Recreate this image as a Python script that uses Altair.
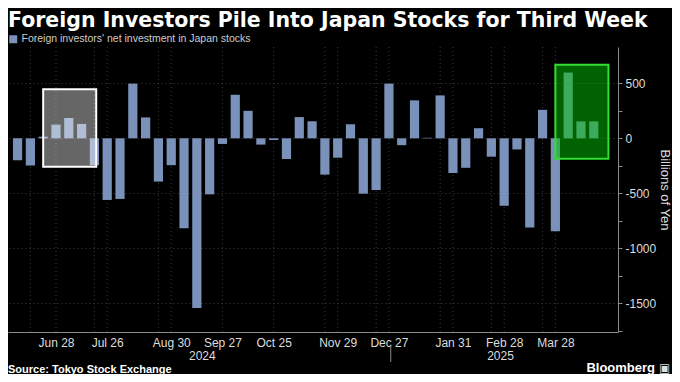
import altair as alt
import pandas as pd

# ---------------- data ----------------
weeks = [
    "2024-06-07", "2024-06-14", "2024-06-21", "2024-06-28",
    "2024-07-05", "2024-07-12", "2024-07-19", "2024-07-26",
    "2024-08-02", "2024-08-09", "2024-08-16", "2024-08-23", "2024-08-30",
    "2024-09-06", "2024-09-13", "2024-09-20", "2024-09-27",
    "2024-10-04", "2024-10-11", "2024-10-18", "2024-10-25",
    "2024-11-01", "2024-11-08", "2024-11-15", "2024-11-22", "2024-11-29",
    "2024-12-06", "2024-12-13", "2024-12-20", "2024-12-27",
    "2025-01-03", "2025-01-10", "2025-01-17", "2025-01-24", "2025-01-31",
    "2025-02-07", "2025-02-14", "2025-02-21", "2025-02-28",
    "2025-03-07", "2025-03-14", "2025-03-21", "2025-03-28",
    "2025-04-04", "2025-04-11", "2025-04-18",
]
net_investment = [
    -200, -247, 15, 125,
    185, 131, -244, -560,
    -551, 497, 190, -393, -244,
    -818, -1542, -509, -51,
    396, 250, -57, -15,
    -188, 193, 155, -330, -176,
    128, -503, -470, 497,
    -62, 345, 5, 390, -315,
    -268, 92, -167, -613,
    -101, -810, 259, -845,
    598, 154, 154,
]
series_name = "Foreign investors' net investment in Japan stocks"

label_dates = ["2024-06-28", "2024-07-26", "2024-08-30", "2024-09-27", "2024-10-25",
               "2024-11-29", "2024-12-27", "2025-01-31", "2025-02-28", "2025-03-28"]
extra_grid_dates = ["2024-06-14", "2024-07-19", "2024-08-23", "2024-11-22",
                    "2024-12-20", "2025-01-24", "2025-02-21", "2025-03-21"]
year_labels = ["2024", "2025"]
year_label_dates = ["2024-09-16", "2025-02-26"]
year_break_dates = ["2024-12-28"]

box_kind = ["earlier", "latest"]
box_start = ["2024-06-21", "2025-03-28"]
box_end = ["2024-07-20", "2025-04-26"]
box_low = [-259, -185]
box_high = [446, 668]

title_text = "Foreign Investors Pile Into Japan Stocks for Third Week"
source_text = "Source: Tokyo Stock Exchange"
brand_text = "Bloomberg"

# ---------------- styling ----------------
FONT = "Liberation Sans"
BAR = "#7a92b9"
GRID = "#3c3c3c"
W, H = 610, 285


def dt(s, hours=0):
    return alt.DateTime(year=int(s[:4]), month=int(s[5:7]), date=int(s[8:10]),
                        hours=hours, utc=True)


x_scale = alt.Scale(type="utc", domain=[dt("2024-06-04", 12), dt("2025-04-28", 12)])
y_scale = alt.Scale(domain=[-1760, 830], nice=False, zero=False)

x_axis = alt.Axis(values=[dt(d) for d in label_dates], format="%b %d", title=None,
                  labelColor="#dddddd", labelFontSize=12, labelFont=FONT,
                  labelPadding=5, ticks=False, grid=False,
                  domainColor="#8a8a8a", labelOverlap=False)
y_axis = alt.Axis(orient="right", values=list(range(-1750, 501, 250)),
                  labelExpr="datum.value % 500 === 0 ? '' + datum.value : ''",
                  grid=True, gridColor=GRID, gridDash=[1, 3],
                  gridOpacity={"condition": {"test": "datum.value % 500 !== 0", "value": 0},
                               "value": 1},
                  domainColor="#8a8a8a", tickColor="#8a8a8a", tickSize=4,
                  labelColor="#dddddd", labelFontSize=12, labelFont=FONT,
                  labelPadding=3, title="Billions of Yen", titleAngle=90,
                  titleColor="#dddddd", titleFontSize=13, titleFontWeight="normal",
                  titleFont=FONT, titlePadding=2)

bars_df = pd.DataFrame({"week": weeks, "value": net_investment, "series": series_name})
grid_df = pd.DataFrame({"gdate": label_dates + extra_grid_dates})
year_df = pd.DataFrame({"ydate": year_label_dates, "year": year_labels})
break_df = pd.DataFrame({"bdate": year_break_dates})
box_df = pd.DataFrame({"kind": box_kind, "start": box_start, "end": box_end,
                       "low": box_low, "high": box_high})

vgrid = alt.Chart(grid_df).mark_rule(color=GRID, strokeDash=[1, 3], strokeWidth=1).encode(
    x=alt.X("gdate:T", scale=x_scale, axis=x_axis)
)

bars = alt.Chart(bars_df).mark_bar(width=9.2).encode(
    x=alt.X("week:T", scale=x_scale, axis=x_axis),
    y=alt.Y("value:Q", scale=y_scale, axis=y_axis),
    color=alt.Color("series:N", scale=alt.Scale(range=[BAR]),
                    legend=alt.Legend(orient="none", legendX=0, legendY=-13, title=None,
                                      symbolType="square", symbolSize=64,
                                      symbolStrokeWidth=0, labelColor="#cccccc",
                                      labelFontSize=10.5, labelFont=FONT, labelOffset=3,
                                      labelLimit=0, padding=0)),
)

boxes = alt.Chart(box_df).mark_rect(strokeWidth=2).encode(
    x=alt.X("start:T", scale=x_scale, axis=x_axis),
    x2="end:T",
    y=alt.Y("low:Q", scale=y_scale, axis=y_axis),
    y2="high:Q",
    fill=alt.Fill("kind:N", scale=alt.Scale(domain=box_kind, range=["#ffffff", "#00c400"]),
                  legend=None),
    stroke=alt.Stroke("kind:N", scale=alt.Scale(domain=box_kind, range=["#ffffff", "#33dd33"]),
                      legend=None),
    fillOpacity=alt.FillOpacity("kind:N", scale=alt.Scale(domain=box_kind, range=[0.4, 0.5]),
                                legend=None),
)

year_text = alt.Chart(year_df).mark_text(color="#dddddd", fontSize=12, font=FONT,
                                         baseline="middle").encode(
    x=alt.X("ydate:T", scale=x_scale, axis=x_axis),
    y=alt.value(H + 24),
    text="year:N",
)

year_break = alt.Chart(break_df).mark_rule(color="#8a8a8a", strokeWidth=1).encode(
    x=alt.X("bdate:T", scale=x_scale, axis=x_axis),
    y=alt.value(H + 14),
    y2=alt.value(H + 30),
)

source = alt.Chart(pd.DataFrame({"t": [source_text]})).mark_text(
    align="left", baseline="middle", color="#ffffff", fontSize=11, fontWeight="bold",
    font=FONT).encode(x=alt.value(0), y=alt.value(H + 38), text="t:N")

brand = alt.Chart(pd.DataFrame({"t": [brand_text]})).mark_text(
    align="right", baseline="middle", color="#ffffff", fontSize=13, fontWeight="bold",
    font=FONT).encode(x=alt.value(W + 37), y=alt.value(H + 36), text="t:N")

logo = alt.Chart(pd.DataFrame({"t": ["▣"]})).mark_text(
    align="left", baseline="middle", color="#dddddd", fontSize=12,
    font="DejaVu Sans").encode(x=alt.value(W + 41), y=alt.value(H + 36), text="t:N")

chart = alt.layer(vgrid, bars, boxes, year_text, year_break, source, brand, logo).properties(
    width=W, height=H,
    title=alt.TitleParams(title_text, anchor="start", frame="group", fontSize=20.5,
                          font="DejaVu Sans", fontWeight="bold", color="#ffffff", offset=3),
    autosize=alt.AutoSizeParams(type="none"),
    padding={"left": 0, "top": 39, "right": 54, "bottom": 42},
).configure(background="#000000").configure_view(stroke=None)

chart.save("out.html", embed_options={"renderer": "svg", "actions": False})
